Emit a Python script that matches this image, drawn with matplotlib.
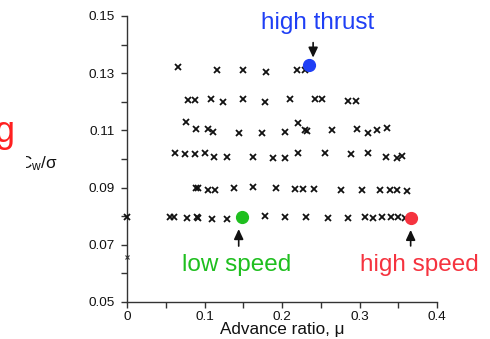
import matplotlib
matplotlib.use("Agg")
import matplotlib.pyplot as plt
from matplotlib.transforms import offset_copy
from matplotlib.patches import Rectangle
from matplotlib.ticker import MultipleLocator, FixedLocator

plt.rcParams['font.family'] = ['Liberation Sans', 'DejaVu Sans']
plt.rcParams['mathtext.fontset'] = 'custom'
plt.rcParams['mathtext.rm'] = 'Liberation Sans'
plt.rcParams['mathtext.it'] = 'Liberation Sans'

# ---- data: advance ratio (mu) and thrust coefficient Cw/sigma ----
row1_mu = [0.066, 0.116, 0.150, 0.179, 0.219, 0.230]
row1_cw = [0.1322, 0.1310, 0.1310, 0.1303, 0.1310, 0.1312]

row2_mu = [0.079, 0.088, 0.108, 0.124, 0.150, 0.178, 0.210, 0.243, 0.252, 0.285, 0.295]
row2_cw = [0.1206, 0.1206, 0.1210, 0.1199, 0.1210, 0.1199, 0.1210, 0.1210, 0.1210, 0.1203, 0.1203]

row3_mu = [0.076, 0.089, 0.105, 0.111, 0.145, 0.174, 0.204, 0.221, 0.230, 0.232, 0.265,
           0.297, 0.311, 0.323, 0.335]
row3_cw = [0.1129, 0.1105, 0.1105, 0.1095, 0.1091, 0.1091, 0.1095, 0.1126, 0.1101, 0.1098,
           0.1101, 0.1105, 0.1091, 0.1101, 0.1108]

row4_mu = [0.062, 0.075, 0.088, 0.101, 0.112, 0.129, 0.163, 0.188, 0.204, 0.221, 0.255,
           0.289, 0.311, 0.334, 0.348, 0.355]
row4_cw = [0.1021, 0.1017, 0.1017, 0.1021, 0.1007, 0.1007, 0.1007, 0.1003, 0.1003, 0.1021,
           0.1021, 0.1017, 0.1021, 0.1007, 0.1003, 0.1010]

row5_mu = [0.089, 0.091, 0.105, 0.114, 0.138, 0.163, 0.192, 0.217, 0.227, 0.241, 0.276,
           0.303, 0.326, 0.339, 0.348, 0.361]
row5_cw = [0.0899, 0.0899, 0.0892, 0.0892, 0.0899, 0.0902, 0.0899, 0.0895, 0.0895, 0.0895,
           0.0892, 0.0892, 0.0892, 0.0892, 0.0892, 0.0888]

row6_mu = [0.0, 0.055, 0.060, 0.077, 0.090, 0.092, 0.110, 0.129, 0.178, 0.204, 0.231,
           0.259, 0.285, 0.307, 0.317, 0.329, 0.341, 0.350, 0.359]
row6_cw = [0.0797, 0.0797, 0.0797, 0.0794, 0.0797, 0.0794, 0.0790, 0.0790, 0.0800, 0.0797,
           0.0797, 0.0794, 0.0794, 0.0797, 0.0794, 0.0797, 0.0797, 0.0797, 0.0794]

extra_mu = [0.0]
extra_cw = [0.0657]

highlight_labels = ["low speed", "high speed", "high thrust"]
highlight_mu = [0.148, 0.366, 0.235]
highlight_cw = [0.0797, 0.0794, 0.1330]

xticks = [0.0, 0.1, 0.2, 0.3, 0.4]
xtick_labels = ["0", "0.1", "0.2", "0.3", "0.4"]
yticks = [0.05, 0.07, 0.09, 0.11, 0.13, 0.15]
ytick_labels = ["0.05", "0.07", "0.09", "0.11", "0.13", "0.15"]

# ---- figure ----
W, H = 490, 339
fig = plt.figure(figsize=(W / 100, H / 100), dpi=100)
ax = fig.add_axes([127 / W, 1 - 302 / H, (437 - 127) / W, (302 - 16) / H])

rows = [(row1_mu, row1_cw), (row2_mu, row2_cw), (row3_mu, row3_cw),
        (row4_mu, row4_cw), (row5_mu, row5_cw), (row6_mu, row6_cw)]
for mu, cw in rows:
    ax.plot(mu, cw, linestyle='none', marker='x', color='#111111',
            markersize=4.6, markeredgewidth=1.3, clip_on=False, zorder=3)
ax.plot(extra_mu, extra_cw, linestyle='none', marker='x', color='#333333',
        markersize=2.5, markeredgewidth=0.8, clip_on=False, zorder=3)

colors = ['#1fbf1f', '#f5333f', '#1f3ff5']
text_off = [(-5, -48), (9, -47), (8, 42)]
arrow_head = [(-3, -12), (0, -12), (4, 7)]
arrow_tail = [(-3, -29), (0, -28), (4, 22)]
for lab, m, c, col, to, ah, at in zip(highlight_labels, highlight_mu, highlight_cw, colors,
                                       text_off, arrow_head, arrow_tail):
    ax.plot([m], [c], linestyle='none', marker='o', color=col, markersize=8.5,
            clip_on=False, zorder=4)
    ax.annotate(lab, xy=(m, c), xytext=to, textcoords='offset pixels',
                ha='center', va='center', fontsize=17.5, color=col,
                annotation_clip=False)
    head_tr = offset_copy(ax.transData, fig=fig, x=ah[0], y=ah[1], units='dots')
    tail_tr = offset_copy(ax.transData, fig=fig, x=at[0], y=at[1], units='dots')
    ax.annotate('', xy=(m, c), xycoords=head_tr, xytext=(m, c), textcoords=tail_tr,
                arrowprops=dict(arrowstyle='-|>,head_length=0.6,head_width=0.28',
                                color='#111111', lw=1.2, shrinkA=0, shrinkB=0,
                                mutation_scale=10),
                annotation_clip=False)

ax.set_xlim(0, 0.4)
ax.set_ylim(0.05, 0.15)
for s in ['top', 'right']:
    ax.spines[s].set_visible(False)
for s in ['left', 'bottom']:
    ax.spines[s].set_color('#333333')
    ax.spines[s].set_linewidth(1.0)

ax.xaxis.set_major_locator(FixedLocator(xticks))
ax.set_xticklabels(xtick_labels)
ax.xaxis.set_minor_locator(MultipleLocator(0.05))
ax.yaxis.set_major_locator(FixedLocator(yticks))
ax.set_yticklabels(ytick_labels)
ax.yaxis.set_minor_locator(MultipleLocator(0.01))
ax.tick_params(which='both', direction='out', length=4, width=1.0, color='#333333',
               labelsize=9.7, labelcolor='#111111')
ax.tick_params(axis='x', pad=2.5)
ax.tick_params(axis='y', pad=5)

ax.set_xlabel('Advance ratio, \u03bc', fontsize=12.3, color='#111111', labelpad=-1)

# y label, partially cut on the left as in the slide crop
fig.text(19 / W, 1 - 164 / H, r'$\mathregular{C_w/\sigma}$', fontsize=12.3,
         ha='left', va='center', color='#111111')
fig.patches.append(Rectangle((0, 1 - 180 / H), 26 / W, 30 / H, transform=fig.transFigure,
                             facecolor='white', edgecolor='none', zorder=10))
# fragment of a red slide title cut by the left edge
fig.text(-6 / W, 1 - 142 / H, 'g', fontsize=26, color='#ff2020', ha='left',
         va='baseline')

fig.savefig('out.png', dpi=100)
